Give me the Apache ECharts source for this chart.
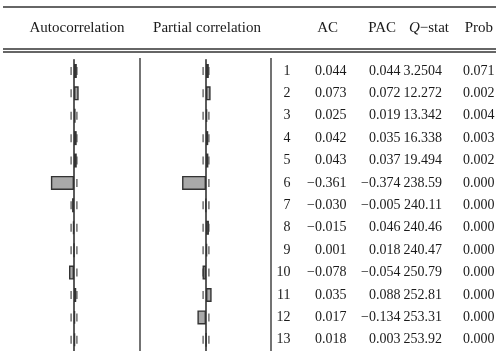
<!DOCTYPE html>
<html><head><meta charset="utf-8">
<script src="https://cdn.jsdelivr.net/npm/echarts@6/dist/echarts.min.js"></script>
<style>html,body{margin:0;padding:0;background:#fff}#c{width:496px;height:351px}</style>
</head><body><div id="c"></div>
<script>
// ---- data ----
const lags = [1,2,3,4,5,6,7,8,9,10,11,12,13];
const acValues  = [0.044,0.073,0.025,0.042,0.043,-0.361,-0.030,-0.015,0.001,-0.078,0.035,0.017,0.018];
const pacValues = [0.044,0.072,0.019,0.035,0.037,-0.374,-0.005,0.046,0.018,-0.054,0.088,-0.134,0.003];
const qStat = [3.2504,12.272,13.342,16.338,19.494,238.59,240.11,240.46,240.47,250.79,252.81,253.31,253.92];
const probValues = [0.071,0.002,0.004,0.003,0.002,0.000,0.000,0.000,0.000,0.000,0.000,0.000,0.000];
const ciBound = 0.045;
const headerLabels = ['Autocorrelation','Partial correlation','AC','PAC','Q','Prob'];

// ---- layout ----
const SERIF = '"Liberation Serif","DejaVu Serif",serif';
const TXT = '#1a1a1a';
const rowTop = 59.7, rowH = 22.6, nRows = lags.length;
const gridH = rowH * nRows;
const colX = { lag: 19.5, ac: 75.5, pac: 129.5, q: 171, prob: 223.5 }; // table axis units (px from table left)

const minus = s => s.replace('-', '\u2212');
const fmt3 = v => minus(v.toFixed(3));

const chart = echarts.init(document.getElementById('c'), null, {renderer: 'canvas'});

const catAxis = gi => ({
  type: 'category', gridIndex: gi, data: lags, inverse: true,
  axisLine: gi < 2 ? {show: true, onZero: true, lineStyle: {color: '#333', width: 1.6}} : {show: false},
  axisTick: {show: false}, axisLabel: {show: false}, splitLine: {show: false}, z: 5
});
const valAxis = (gi, mn, mx) => ({
  type: 'value', gridIndex: gi, min: mn, max: mx,
  axisLine: {show: false}, axisTick: {show: false}, axisLabel: {show: false}, splitLine: {show: false}
});

const barSeries = (gi, vals) => ({
  type: 'bar', xAxisIndex: gi, yAxisIndex: gi, data: vals, barWidth: 14, z: 3,
  itemStyle: {color: '#a9a9a9', borderColor: '#333', borderWidth: 1.4}, silent: true
});
const ciSeries = gi => ({
  type: 'scatter', xAxisIndex: gi, yAxisIndex: gi, symbol: 'rect', symbolSize: [1.6, 8], z: 2,
  itemStyle: {color: '#555'}, silent: true,
  data: lags.flatMap((l, i) => [[-ciBound, i], [ciBound, i]])
});

const tableSeries = {
  type: 'custom', xAxisIndex: 2, yAxisIndex: 2, silent: true,
  data: lags.map((l, i) => [i]),
  renderItem: (params, api) => {
    const i = params.dataIndex;
    const cells = [
      [colX.lag, String(lags[i])],
      [colX.ac, fmt3(acValues[i])],
      [colX.pac, fmt3(pacValues[i])],
      [colX.q, qStat[i].toPrecision(5)],
      [colX.prob, probValues[i].toFixed(3)]
    ];
    return {type: 'group', children: cells.map(([cx, t]) => {
      const p = api.coord([cx, i]);
      return {type: 'text', x: p[0], y: p[1], style: {
        text: t, fill: TXT, font: '14px ' + SERIF,
        align: 'right', verticalAlign: 'middle', textAlign: 'right', textVerticalAlign: 'middle'}};
    })};
  }
};

const hline = (y, x1, x2, w) => ({type: 'line', shape: {x1, y1: y, x2, y2: y}, style: {stroke: '#333', lineWidth: w}, silent: true});
const vline = (x, y1, y2, w) => ({type: 'line', shape: {x1: x, y1, x2: x, y2}, style: {stroke: '#444', lineWidth: w}, silent: true});
const htext = (x, t, align, rich) => ({type: 'text', x, y: 28.5, silent: true, style: {
  text: t, fill: TXT, font: '15px ' + SERIF, align, verticalAlign: 'middle', textAlign: align, textVerticalAlign: 'middle', rich}});

chart.setOption({
  animation: false,
  grid: [
    {left: 42, width: 64, top: rowTop, height: gridH},
    {left: 174, width: 64, top: rowTop, height: gridH},
    {left: 271, width: 225, top: rowTop, height: gridH}
  ],
  xAxis: [valAxis(0, -0.5, 0.5), valAxis(1, -0.5, 0.5), valAxis(2, 0, 225)],
  yAxis: [catAxis(0), catAxis(1), catAxis(2)],
  series: [ciSeries(0), barSeries(0, acValues), ciSeries(1), barSeries(1, pacValues), tableSeries],
  graphic: [
    hline(7, 3, 496, 1.6),
    hline(49, 3, 496, 1.6),
    hline(52, 3, 496, 1.6),
    vline(140, 58, 351, 1.5),
    vline(271, 58, 351, 1.5),
    htext(77, headerLabels[0], 'center'),
    htext(207, headerLabels[1], 'center'),
    htext(338, headerLabels[2], 'right'),
    htext(396, headerLabels[3], 'right'),
    {type: 'text', x: 449, y: 28.5, silent: true, style: {
      text: '{i|' + headerLabels[4] + '}\u2212stat', fill: TXT, font: '15px ' + SERIF,
      align: 'right', verticalAlign: 'middle', textAlign: 'right', textVerticalAlign: 'middle',
      rich: {i: {fontStyle: 'italic', font: 'italic 15px ' + SERIF, fill: TXT}}}},
    htext(493, headerLabels[5], 'right')
  ]
});
</script></body></html>
